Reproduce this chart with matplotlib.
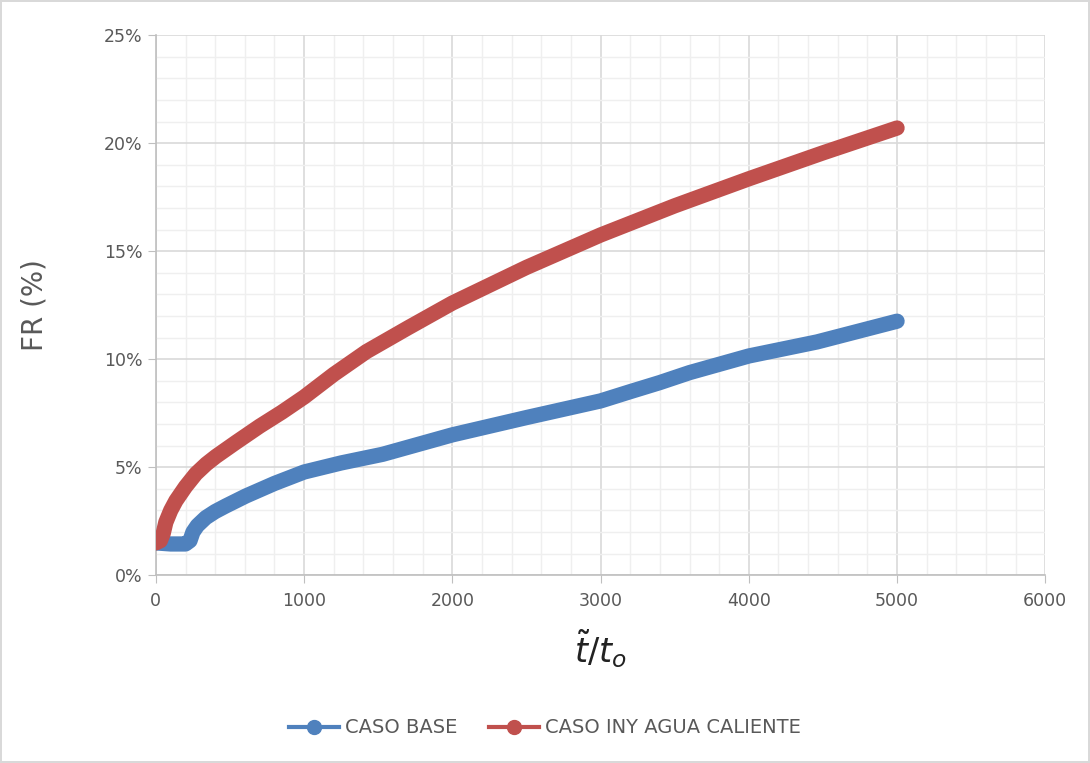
import matplotlib
matplotlib.use("Agg")
import matplotlib.pyplot as plt
from matplotlib.ticker import MultipleLocator, FuncFormatter
from matplotlib.lines import Line2D

# Data (x = t~/t_o, y = FR %)
base_x = [0, 100, 200, 230, 250, 280, 337, 400, 472, 607, 800, 1000, 1250, 1530, 2000, 2500, 3000, 3200, 3400, 3600, 4000, 4460, 5000]
base_y = [1.5, 1.45, 1.45, 1.6, 2.0, 2.3, 2.67, 2.95, 3.21, 3.67, 4.25, 4.78, 5.2, 5.6, 6.5, 7.3, 8.07, 8.5, 8.92, 9.38, 10.15, 10.8, 11.76]

hot_x = [0, 30, 50, 67, 100, 135, 200, 270, 340, 405, 540, 700, 850, 1000, 1200, 1420, 1700, 2000, 2500, 3000, 3500, 4000, 4500, 5000]
hot_y = [1.5, 1.6, 1.95, 2.45, 3.0, 3.45, 4.1, 4.7, 5.15, 5.5, 6.15, 6.9, 7.55, 8.25, 9.3, 10.35, 11.45, 12.6, 14.25, 15.75, 17.1, 18.35, 19.55, 20.7]

labels = ["CASO BASE", "CASO INY AGUA CALIENTE"]
colors = ["#4f81bd", "#c0504d"]

fig = plt.figure(figsize=(10.9, 7.63), dpi=100)
fig.patch.set_edgecolor("#d9d9d9")
fig.patch.set_linewidth(1.5)
ax = fig.add_axes([0.143, 0.246, 0.816, 0.708])

for xs, ys, c in [(base_x, base_y, colors[0]), (hot_x, hot_y, colors[1])]:
    ax.plot(xs, ys, color=c, lw=11, solid_capstyle="round", solid_joinstyle="round", zorder=3)

ax.set_xlim(0, 6000)
ax.set_ylim(0, 25)
ax.xaxis.set_major_locator(MultipleLocator(1000))
ax.xaxis.set_minor_locator(MultipleLocator(200))
ax.yaxis.set_major_locator(MultipleLocator(5))
ax.yaxis.set_minor_locator(MultipleLocator(1))
ax.yaxis.set_major_formatter(FuncFormatter(lambda v, p: f"{int(v)}%"))

ax.grid(which="major", color="#d9d9d9", lw=1.2)
ax.grid(which="minor", color="#efefef", lw=1.0)
ax.set_axisbelow(True)

for s in ["top", "right"]:
    ax.spines[s].set_visible(False)
for s in ["left", "bottom"]:
    ax.spines[s].set_color("#bfbfbf")
    ax.spines[s].set_linewidth(1.2)

ax.tick_params(which="major", length=6, color="#bfbfbf", labelsize=12.5, labelcolor="#595959")
ax.tick_params(which="minor", length=0)
ax.tick_params(axis="x", pad=6)

ax.set_ylabel("FR (%)", fontsize=20, color="#595959", labelpad=40)
ax.set_xlabel(r"$\tilde{t}/t_o$", fontsize=24, color="#222222", labelpad=12)

handles = [Line2D([0], [0], color=c, lw=3, marker="o", markersize=10) for c in colors]
fig.legend(handles, labels, loc="center", bbox_to_anchor=(0.5, 0.046), ncol=2, frameon=False,
           fontsize=14, labelcolor="#595959", handlelength=2.6, columnspacing=1.6, handletextpad=0.3)

fig.savefig("out.png", dpi=100, edgecolor=fig.get_edgecolor())
